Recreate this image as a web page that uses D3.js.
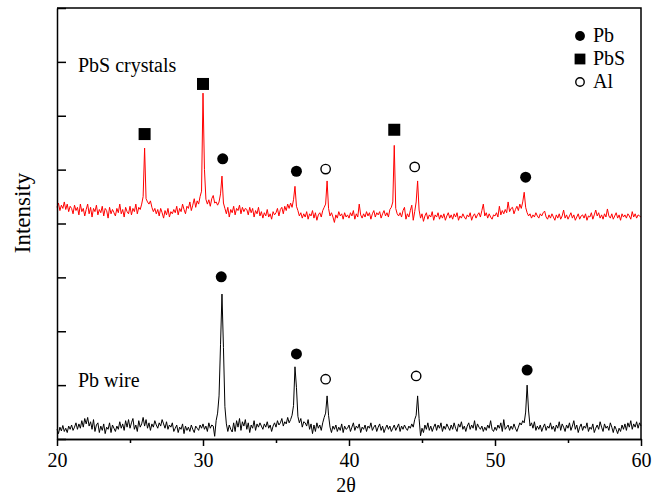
<!DOCTYPE html>
<html>
<head>
<meta charset="utf-8">
<script src="https://cdn.jsdelivr.net/npm/d3@7"></script>
<style>
  body { margin: 0; background: #fff; }
  text { font-family: "Liberation Serif", "Times New Roman", serif; fill: #000; }
</style>
</head>
<body>
<div id="vis"></div>
<script>
const width = 662;
const height = 498;
const margin = { top: 8, right: 21, bottom: 59, left: 57 };

// 2θ sampling of both scans
const angleStart = 20;
const angleStep = 0.1;

// Pb wire scan (one row per degree, 20.0 .. 60.0)
const pbWire = [
  18, 10, 22, 15, 25, 14, 20, 12, 24, 18,
  26, 16, 22, 30, 18, 28, 20, 34, 22, 38,
  28, 40, 24, 32, 18, 36, 14, 26, 30, 12,
  24, 16, 28, 10, 22, 18, 30, 12, 26, 20,
  14, 24, 18, 32, 20, 28, 16, 34, 22, 36,
  20, 30, 38, 18, 26, 14, 34, 22, 28, 40,
  24, 36, 20, 30, 16, 28, 22, 34, 26, 20,
  30, 24, 36, 28, 20, 32, 18, 26, 22, 30,
  14, 20, 26, 12, 22, 18, 28, 10, 24, 16,
  22, 14, 26, 18, 12, 24, 20, 16, 26, 20,
  28, 18, 24, 14, 30, 20, 26, 24, 5, 34,
  48, 80, 175, 269, 170, 60, 28, 14, 26, 18,
  13, 30, 14, 34, 22, 38, 16, 32, 24, 36,
  18, 30, 12, 26, 20, 34, 16, 28, 22, 30,
  24, 18, 28, 22, 32, 20, 26, 14, 24, 30,
  22, 34, 26, 30, 38, 24, 32, 28, 40, 30,
  36, 44, 62, 134, 96, 42, 30, 38, 22, 32,
  30, 24, 36, 18, 28, 10, 26, 14, 30, 20,
  26, 16, 30, 40, 48, 80, 44, 22, 12, 24,
  18, 26, 14, 22, 16, 28, 12, 24, 18, 20,
  26, 14, 22, 30, 16, 24, 20, 28, 12, 22,
  18, 26, 14, 24, 20, 30, 16, 22, 26, 14,
  22, 28, 16, 24, 12, 20, 26, 18, 24, 14,
  20, 26, 16, 22, 28, 14, 24, 18, 26, 20,
  16, 24, 20, 28, 22, 36, 44, 80, 38, 6,
  20, 12, 26, 18, 30, 16, 24, 14, 22, 28,
  16, 26, 20, 30, 14, 24, 18, 28, 22, 16,
  26, 18, 30, 20, 14, 28, 22, 32, 18, 24,
  14, 24, 30, 18, 26, 20, 34, 16, 28, 22,
  18, 24, 14, 22, 16, 26, 20, 34, 18, 14,
  22, 16, 26, 20, 30, 14, 36, 18, 22, 26,
  16, 24, 18, 28, 20, 14, 22, 30, 26, 34,
  30, 50, 100, 52, 24, 30, 20, 32, 16, 24,
  18, 26, 14, 22, 28, 16, 24, 20, 30, 18,
  24, 14, 26, 20, 32, 16, 28, 22, 14, 26,
  20, 30, 16, 24, 34, 18, 26, 12, 22, 28,
  16, 24, 20, 30, 14, 22, 18, 28, 12, 20,
  26, 18, 32, 22, 14, 28, 20, 24, 16, 30,
  22, 12, 24, 18, 10, 20, 14, 26, 18, 28,
  16, 30, 22, 34, 18, 28, 22, 32, 20, 30,
  24
];

// PbS crystals scan (one row per degree, 20.0 .. 60.0)
const pbsCrystals = [
  430, 438, 424, 434, 428, 440, 426, 436, 422, 432,
  428, 418, 434, 424, 430, 416, 436, 422, 428, 414,
  426, 436, 418, 430, 412, 428, 422, 434, 416, 426,
  420, 432, 414, 428, 424, 410, 430, 418, 426, 420,
  414, 428, 420, 436, 418, 426, 412, 430, 422, 418,
  432, 416, 428, 422, 436, 418, 430, 426, 436, 450,
  540, 446, 440, 436, 442, 430, 422, 428, 418, 426,
  414, 428, 420, 410, 424, 416, 428, 412, 422, 418,
  426, 420, 432, 416, 428, 422, 436, 426, 418, 432,
  428, 440, 424, 434, 446, 430, 442, 436, 450, 460,
  642, 500, 445, 436, 444, 432, 446, 452, 438, 440,
  434, 440, 455, 488, 438, 428, 418, 430, 412, 426,
  420, 432, 416, 428, 424, 434, 418, 430, 422, 428,
  426, 416, 430, 420, 428, 412, 424, 418, 430, 414,
  422, 410, 420, 414, 426, 412, 418, 408, 422, 416,
  420, 428, 414, 426, 430, 418, 432, 424, 436, 428,
  438, 430, 444, 469, 432, 424, 414, 420, 410, 418,
  412, 422, 408, 418, 414, 424, 410, 420, 406, 416,
  420, 412, 424, 430, 436, 479, 428, 414, 420, 412,
  402, 416, 410, 422, 414, 418, 408, 420, 412, 416,
  410, 420, 414, 424, 408, 418, 412, 436, 416, 410,
  418, 412, 422, 414, 420, 408, 418, 424, 412, 420,
  416, 422, 410, 418, 424, 414, 420, 412, 426, 430,
  440, 545, 428, 418, 414, 420, 412, 424, 430, 408,
  418, 412, 424, 434, 406, 422, 440, 479, 425, 410,
  418, 404, 414, 420, 408, 416, 412, 422, 406, 416,
  412, 420, 408, 416, 410, 418, 406, 414, 420, 410,
  416, 408, 418, 412, 420, 406, 414, 410, 418, 412,
  408, 416, 412, 420, 406, 414, 418, 410, 416, 420,
  412, 424, 436, 414, 420, 410, 418, 412, 408, 416,
  414, 420, 412, 432, 416, 424, 418, 426, 420, 440,
  422, 428, 430, 418, 426, 432, 424, 436, 428, 440,
  458, 430, 420, 414, 418, 410, 416, 412, 420, 414,
  410, 418, 414, 420, 423, 412, 408, 416, 410, 418,
  412, 406, 416, 410, 418, 408, 414, 425, 410, 416,
  408, 414, 420, 410, 416, 406, 412, 418, 408, 414,
  416, 410, 418, 406, 414, 412, 420, 408, 416, 425,
  414, 420, 410, 416, 408, 418, 412, 427, 414, 410,
  418, 408, 414, 420, 410, 416, 406, 418, 412, 416,
  410, 418, 414, 408, 422, 412, 418, 410, 416, 414,
  412
];

// phase markers: [2θ, intensity, phase]
const pbsMarkers = [
  [26.0, 566, "PbS"], [30.0, 659, "PbS"], [31.35, 520, "Pb"], [36.4, 497, "Pb"],
  [38.4, 501, "Al"], [43.1, 574, "PbS"], [44.5, 505, "Al"], [52.1, 486, "Pb"]
];
const wireMarkers = [
  [31.25, 301, "Pb"], [36.4, 158, "Pb"], [38.4, 111, "Al"], [44.6, 117, "Al"], [52.2, 128, "Pb"]
];

const phases = ["Pb", "PbS", "Al"];
const seriesLabels = ["PbS crystals", "Pb wire"];
const xTicks = [20, 30, 40, 50, 60];
const xMinorTicks = [25, 35, 45, 55];
const yTicks = [0, 100, 200, 300, 400, 500, 600, 700, 800];

const x = d3.scaleLinear().domain([20, 60]).range([margin.left, width - margin.right]);
const y = d3.scaleLinear().domain([0, 800]).range([height - margin.bottom, margin.top]);

const svg = d3.select("#vis")
  .append("svg")
  .attr("width", width)
  .attr("height", height)
  .style("background-color", "#fff");

// scans
const line = d3.line()
  .x((d, i) => x(angleStart + i * angleStep))
  .y(d => y(d));

svg.append("path")
  .datum(pbsCrystals)
  .attr("d", line)
  .attr("fill", "none")
  .attr("stroke", "#ff0000")
  .attr("stroke-width", 1)
  .attr("stroke-linejoin", "round");

svg.append("path")
  .datum(pbWire)
  .attr("d", line)
  .attr("fill", "none")
  .attr("stroke", "#000")
  .attr("stroke-width", 1)
  .attr("stroke-linejoin", "round");

// axes
const xAxis = svg.append("g")
  .attr("transform", "translate(0," + y(0) + ")")
  .call(d3.axisBottom(x).tickValues(xTicks).tickSize(7).tickPadding(4).tickSizeOuter(0));
xAxis.append("g")
  .call(d3.axisBottom(x).tickValues(xMinorTicks).tickSize(4).tickFormat("").tickSizeOuter(0));
xAxis.selectAll("text").style("font-size", "20px").attr("dy", "0.85em");

const yAxis = svg.append("g")
  .attr("transform", "translate(" + x(20) + ",0)")
  .call(d3.axisRight(y).tickValues(yTicks).tickSize(9).tickFormat("").tickSizeOuter(0));

svg.selectAll(".domain").attr("stroke-width", 1.5);
svg.selectAll(".tick line").attr("stroke-width", 1.5);

// top and right frame
svg.append("path")
  .attr("d", "M" + x(20) + "," + y(800) + "H" + x(60) + "V" + y(0))
  .attr("fill", "none")
  .attr("stroke", "#000")
  .attr("stroke-width", 1.5);

// markers
function drawMarker(g, phase, cx, cy, s) {
  if (phase === "Pb") {
    g.append("circle").attr("cx", cx).attr("cy", cy).attr("r", 5.5 * s).attr("fill", "#000");
  } else if (phase === "PbS") {
    g.append("rect").attr("x", cx - 6 * s).attr("y", cy - 6 * s)
      .attr("width", 12 * s).attr("height", 12 * s).attr("fill", "#000");
  } else {
    g.append("circle").attr("cx", cx).attr("cy", cy).attr("r", 4.7 * s)
      .attr("fill", "#fff").attr("stroke", "#000").attr("stroke-width", 1.4);
  }
}

const markerG = svg.append("g");
pbsMarkers.concat(wireMarkers).forEach(m => drawMarker(markerG, m[2], x(m[0]), y(m[1]), 1));

// legend
const legend = svg.append("g");
phases.forEach((p, i) => {
  drawMarker(legend, p, 580, 36 + i * 23, 0.9);
  legend.append("text")
    .attr("x", 593)
    .attr("y", 42 + i * 23)
    .style("font-size", "20px")
    .text(p);
});

// scan labels
svg.append("text").attr("x", 78).attr("y", 72).style("font-size", "20px").text(seriesLabels[0]);
svg.append("text").attr("x", 78).attr("y", 387).style("font-size", "20px").text(seriesLabels[1]);

// axis titles
svg.append("text")
  .attr("x", x(40) - 3)
  .attr("y", 492)
  .attr("text-anchor", "middle")
  .style("font-size", "20px")
  .text("2θ");

svg.append("text")
  .attr("transform", "translate(30," + 213 + ") rotate(-90)")
  .attr("text-anchor", "middle")
  .style("font-size", "23px")
  .text("Intensity");
</script>
</body>
</html>
